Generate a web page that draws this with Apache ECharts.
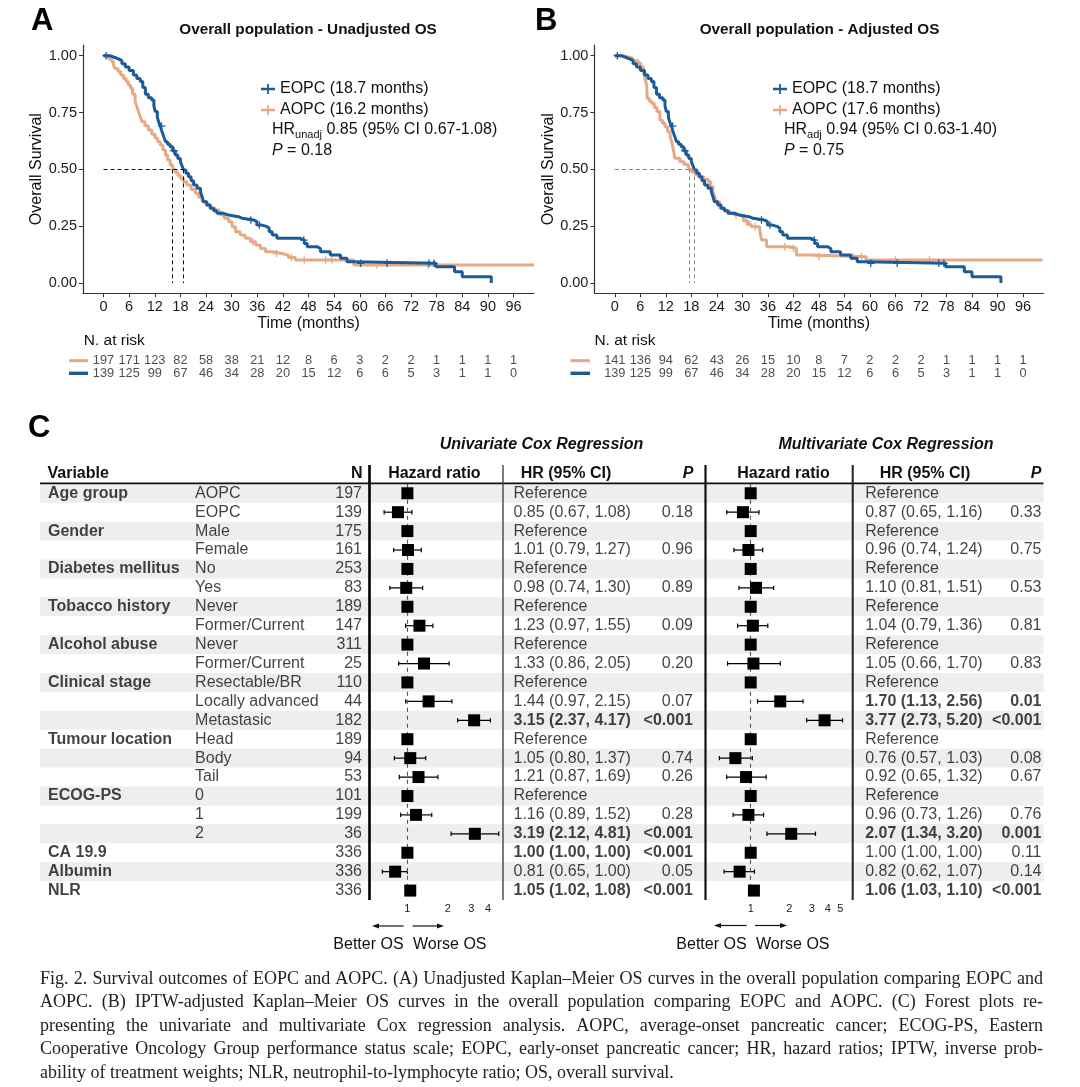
<!DOCTYPE html>
<html><head><meta charset="utf-8">
<script src="https://cdn.jsdelivr.net/npm/echarts/dist/echarts.min.js"></script>
<style>html,body{margin:0;padding:0;background:#fff}#c{width:1080px;height:1087px}</style>
</head><body><div id="c"></div><script>
// ---------------- DATA ----------------
const timeTicks = [0,6,12,18,24,30,36,42,48,54,60,66,72,78,84,90,96];
const survTicks = [0,0.25,0.5,0.75,1];

// Kaplan-Meier step points [time (months), survival]
const eopcOS = [[0,1],[1.5,0.993],[2.5,0.986],[3.5,0.978],[4.3,0.964],[5.1,0.950],[6.0,0.935],[7.0,0.915],[7.8,0.900],[8.6,0.886],[9.2,0.860],[9.8,0.830],[10.5,0.815],[11.3,0.805],[11.8,0.780],[12.1,0.755],[12.6,0.730],[12.9,0.710],[13.3,0.690],[13.7,0.666],[14.1,0.645],[14.5,0.622],[15.0,0.610],[15.6,0.600],[16.2,0.582],[16.8,0.563],[17.4,0.548],[18.0,0.534],[18.4,0.515],[18.75,0.497],[19.3,0.483],[19.9,0.468],[20.5,0.450],[21.1,0.431],[21.9,0.417],[22.7,0.402],[23.1,0.380],[23.4,0.358],[24.2,0.343],[25.0,0.329],[25.8,0.318],[26.6,0.307],[28.0,0.299],[29.3,0.292],[31.6,0.285],[32.5,0.277],[35.2,0.270],[35.9,0.255],[37.1,0.248],[38.3,0.241],[38.8,0.226],[39.5,0.211],[40.6,0.197],[46.1,0.189],[47.0,0.174],[47.7,0.160],[50.0,0.152],[50.8,0.138],[53.1,0.123],[55.5,0.109],[57.0,0.094],[58.6,0.087],[77.8,0.072],[82.2,0.050],[84.0,0.028],[90.8,0.0]];
const aopcOSUnadj = [[0,1],[0.8,0.995],[1.2,0.988],[1.8,0.975],[2.3,0.960],[2.7,0.944],[3.4,0.930],[4.0,0.915],[4.7,0.900],[5.3,0.886],[5.8,0.871],[6.3,0.857],[6.8,0.830],[7.4,0.798],[7.8,0.776],[8.2,0.754],[8.6,0.732],[9.0,0.710],[9.7,0.692],[10.5,0.673],[11.3,0.655],[12.1,0.637],[12.7,0.622],[13.3,0.607],[13.9,0.585],[14.5,0.563],[15.0,0.541],[15.6,0.519],[16.2,0.500],[16.8,0.487],[17.4,0.474],[18.0,0.461],[18.7,0.446],[19.5,0.431],[20.5,0.413],[21.5,0.395],[22.3,0.377],[23.1,0.358],[24.0,0.343],[25.0,0.329],[26.2,0.314],[27.4,0.299],[28.3,0.285],[29.3,0.270],[30.1,0.248],[30.9,0.226],[32.0,0.211],[33.2,0.197],[34.4,0.182],[35.6,0.167],[36.7,0.152],[37.9,0.138],[39.8,0.130],[41.8,0.123],[43.3,0.112],[44.9,0.101],[58.6,0.079],[100.8,0.079]];
const aopcOSAdj = [[0,1],[2.0,0.994],[3.2,0.988],[4.3,0.978],[5.5,0.967],[6.1,0.950],[6.7,0.930],[7.1,0.900],[7.5,0.871],[7.6,0.813],[8.1,0.800],[8.7,0.790],[9.3,0.772],[9.9,0.754],[10.6,0.717],[11.2,0.703],[11.8,0.688],[12.4,0.666],[13.0,0.644],[13.4,0.620],[13.7,0.593],[14.1,0.549],[15.3,0.534],[16.3,0.522],[17.3,0.512],[17.6,0.500],[18.1,0.490],[18.9,0.478],[19.6,0.468],[20.8,0.456],[22.0,0.446],[22.5,0.425],[23.1,0.402],[23.5,0.380],[23.9,0.358],[24.7,0.329],[25.8,0.318],[27.0,0.307],[28.2,0.299],[29.4,0.292],[30.2,0.277],[30.6,0.270],[31.4,0.258],[32.1,0.248],[34.1,0.233],[34.5,0.189],[35.7,0.160],[41.1,0.153],[42.7,0.123],[45.8,0.116],[59.1,0.101],[100.6,0.101]];
const eopcCensor = [[0.6,1],[13.6,0.690],[16.5,0.582],[34.5,0.277],[36.5,0.255],[46.9,0.189],[60.2,0.087],[66.4,0.087],[76.2,0.087],[77.4,0.087]];
const aopcCensorUnadj = [[27,0.314],[35,0.182],[40.5,0.130],[44,0.112],[47,0.101],[52,0.101],[53.5,0.101],[64,0.079],[76,0.079]];
const aopcCensorAdj = [[21,0.456],[28.5,0.299],[31,0.270],[33,0.248],[40,0.160],[42,0.153],[48,0.116],[56,0.116],[58,0.116],[66,0.101],[74,0.101]];

const riskEOPC      = [139,125,99,67,46,34,28,20,15,12,6,6,5,3,1,1,0];
const riskAOPCUnadj = [197,171,123,82,58,38,21,12,8,6,3,2,2,1,1,1,1];
const riskAOPCAdj   = [141,136,94,62,43,26,15,10,8,7,2,2,2,1,1,1,1];
const mediansUnadj = [18.7,16.2];
const mediansAdj   = [18.7,17.6];

// Forest table
const varGroups = ['Age group','','Gender','','Diabetes mellitus','','Tobacco history','','Alcohol abuse','','Clinical stage','','','Tumour location','','','ECOG-PS','','','CA 19.9','Albumin','NLR'];
const varLevels = ['AOPC','EOPC','Male','Female','No','Yes','Never','Former/Current','Never','Former/Current','Resectable/BR','Locally advanced','Metastasic','Head','Body','Tail','0','1','2','','',''];
const nPatients = [197,139,175,161,253,83,189,147,311,25,110,44,182,189,94,53,101,199,36,336,336,336];
const uniHR = [1,0.85,1,1.01,1,0.98,1,1.23,1,1.33,1,1.44,3.15,1,1.05,1.21,1,1.16,3.19,1.00,0.81,1.05];
const uniLo = [null,0.67,null,0.79,null,0.74,null,0.97,null,0.86,null,0.97,2.37,null,0.80,0.87,null,0.89,2.12,1.00,0.65,1.02];
const uniHi = [null,1.08,null,1.27,null,1.30,null,1.55,null,2.05,null,2.15,4.17,null,1.37,1.69,null,1.52,4.81,1.00,1.00,1.08];
const uniP  = ['','0.18','','0.96','','0.89','','0.09','','0.20','','0.07','<0.001','','0.74','0.26','','0.28','<0.001','<0.001','0.05','<0.001'];
const uniBoldRows = [12,18,19,21];
const multiHR = [1,0.87,1,0.96,1,1.10,1,1.04,1,1.05,1,1.70,3.77,1,0.76,0.92,1,0.96,2.07,1.00,0.82,1.06];
const multiLo = [null,0.65,null,0.74,null,0.81,null,0.79,null,0.66,null,1.13,2.73,null,0.57,0.65,null,0.73,1.34,1.00,0.62,1.03];
const multiHi = [null,1.16,null,1.24,null,1.51,null,1.36,null,1.70,null,2.56,5.20,null,1.03,1.32,null,1.26,3.20,1.00,1.07,1.10];
const multiP  = ['','0.33','','0.75','','0.53','','0.81','','0.83','','0.01','<0.001','','0.08','0.67','','0.76','0.001','0.11','0.14','<0.001'];
const multiBoldRows = [11,12,18,21];
const uniTicks = [1,2,3,4];
const multiTicks = [1,2,3,4,5];

const captionLines = [
 'Fig. 2. Survival outcomes of EOPC and AOPC. (A) Unadjusted Kaplan\u2013Meier OS curves in the overall population comparing EOPC and',
 'AOPC. (B) IPTW-adjusted Kaplan\u2013Meier OS curves in the overall population comparing EOPC and AOPC. (C) Forest plots re-',
 'presenting the univariate and multivariate Cox regression analysis. AOPC, average-onset pancreatic cancer; ECOG-PS, Eastern',
 'Cooperative Oncology Group performance status scale; EOPC, early-onset pancreatic cancer; HR, hazard ratios; IPTW, inverse prob-',
 'ability of treatment weights; NLR, neutrophil-to-lymphocyte ratio; OS, overall survival.'
];

// ---------------- STYLE / LAYOUT ----------------
const F = '"Liberation Sans", Arial, Helvetica, sans-serif';
const BLUE = '#1b5b97', ORANGE = '#e6a986';
const PLUS = 'path://M-0.6,-3.5H0.6V-0.6H3.5V0.6H0.6V3.5H-0.6V0.6H-3.5V-0.6H-0.6Z';
const LEGICON = 'path://M0,3.8H14V6.2H0Z M6.1,0H7.9V10H6.1Z';
const ROWS = nPatients.length;
const TBL_TOP = 483.8, ROW_H = 18.92;

const chart = echarts.init(document.getElementById('c'), null, {renderer:'canvas'});

function kmAxes(gi){
  const x = {type:'value', gridIndex:gi, min:-4.8, max:100.8,
    axisLine:{show:true, onZero:false, lineStyle:{color:'#333', width:1.2}},
    axisTick:{show:true, customValues:timeTicks, length:4, lineStyle:{color:'#333'}},
    axisLabel:{customValues:timeTicks, fontSize:14.5, color:'#1a1a1a', margin:6, fontFamily:F},
    splitLine:{show:false}, name:'Time (months)', nameLocation:'middle', nameGap:19,
    nameTextStyle:{fontSize:16, color:'#111', fontFamily:F}};
  const y = {type:'value', gridIndex:gi, min:-0.045, max:1.047,
    axisLine:{show:true, onZero:false, lineStyle:{color:'#333', width:1.2}},
    axisTick:{show:true, customValues:survTicks, length:4, lineStyle:{color:'#333'}},
    axisLabel:{customValues:survTicks, formatter:v=>Number(v).toFixed(2), fontSize:14.5, color:'#1a1a1a', margin:6, fontFamily:F},
    splitLine:{show:false}, name:'Overall Survival', nameLocation:'middle', nameGap:34,
    nameTextStyle:{fontSize:16, color:'#111', fontFamily:F}};
  return [x,y];
}
function hiddenX(gi,min,max,type){ return {type:type||'value', gridIndex:gi, min, max, show:false}; }

const xAxes = [], yAxes = [];
let a = kmAxes(0); xAxes.push(a[0]); yAxes.push(a[1]);
a = kmAxes(1); xAxes.push(a[0]); yAxes.push(a[1]);
xAxes.push(hiddenX(2,-4.8,100.8)); yAxes.push({type:'category', gridIndex:2, data:['AOPC','EOPC'], inverse:true, show:false});
xAxes.push(hiddenX(3,-4.8,100.8)); yAxes.push({type:'category', gridIndex:3, data:['AOPC','EOPC'], inverse:true, show:false});
xAxes.push(hiddenX(4,0,1080)); yAxes.push({type:'value', gridIndex:4, min:-0.5, max:ROWS-0.5, inverse:true, show:false});
function forestX(gi,min,max,ticks){
  return {type:'log', logBase:2, gridIndex:gi, min, max, axisLine:{show:false}, splitLine:{show:false},
    axisTick:{show:true, customValues:ticks, length:3, lineStyle:{color:'#333', width:1}},
    axisLabel:{show:true, customValues:ticks, fontSize:11, color:'#222', margin:3, fontFamily:F},
    minorTick:{show:false}};
}
xAxes.push(forestX(5,0.5166,5.177,uniTicks)); yAxes.push({type:'value', gridIndex:5, min:-0.5, max:ROWS-0.5, inverse:true, show:false});
xAxes.push(forestX(6,0.4426,6.244,multiTicks)); yAxes.push({type:'value', gridIndex:6, min:-0.5, max:ROWS-0.5, inverse:true, show:false});

const grids = [
  {left:83, top:45, width:451, height:248.3},
  {left:594.4, top:45, width:449, height:248.3},
  {left:83, top:354.4, width:451, height:25.2},
  {left:594.4, top:354.4, width:449, height:25.2},
  {left:0, top:TBL_TOP, width:1080, height:ROWS*ROW_H},
  {left:369, top:TBL_TOP, width:134, height:ROWS*ROW_H},
  {left:705.3, top:TBL_TOP, width:147.4, height:ROWS*ROW_H}
];

const series = [];
function kmLine(name, data, color, gi, z, extra){
  return Object.assign({type:'line', name, xAxisIndex:gi, yAxisIndex:gi, data, step:'end', showSymbol:false, symbol:'none',
    lineStyle:{color, width:3}, itemStyle:{color}, z, silent:true}, extra||{});
}
function medianMark(meds, color){
  const mx = Math.max.apply(null, meds);
  const d = [[{coord:[0,0.5]},{coord:[mx,0.5]}]];
  meds.forEach(m=>d.push([{coord:[m,0.5]},{coord:[m,0]}]));
  return {silent:true, symbol:['none','none'], label:{show:false}, lineStyle:{type:[4,3], color, width:1}, data:d, animation:false};
}
function censor(data,color,gi,z){
  return {type:'scatter', xAxisIndex:gi, yAxisIndex:gi, data, symbol:PLUS, symbolSize:7.5, itemStyle:{color, opacity:1}, z, silent:true};
}
// Panel A
series.push(kmLine('AOPC (16.2 months)', aopcOSUnadj, ORANGE, 0, 2, {markLine:medianMark(mediansUnadj,'#111')}));
series.push(censor(aopcCensorUnadj, ORANGE, 0, 2));
series.push(kmLine('EOPC (18.7 months)', eopcOS, BLUE, 0, 3));
series.push(censor(eopcCensor, BLUE, 0, 3));
// Panel B
series.push(kmLine('AOPC (17.6 months)', aopcOSAdj, ORANGE, 1, 2, {markLine:medianMark(mediansAdj,'#888')}));
series.push(censor(aopcCensorAdj, ORANGE, 1, 2));
series.push(kmLine('EOPC (18.7 months)', eopcOS, BLUE, 1, 3));
series.push(censor(eopcCensor, BLUE, 1, 3));
// Risk tables
function riskSeries(vals, cat, gi){
  return {type:'scatter', xAxisIndex:gi, yAxisIndex:gi, symbolSize:1, itemStyle:{color:'rgba(0,0,0,0)'}, silent:true,
    data: vals.map((n,i)=>({value:[timeTicks[i], cat], name:String(n)})),
    label:{show:true, position:'inside', formatter:'{b}', fontSize:12.8, fontFamily:F, color:'#222'}};
}
series.push(riskSeries(riskAOPCUnadj,'AOPC',2), riskSeries(riskEOPC,'EOPC',2));
series.push(riskSeries(riskAOPCAdj,'AOPC',3), riskSeries(riskEOPC,'EOPC',3));

// Table stripes
const stripes = [];
for (let r=0; r<ROWS; r+=2) stripes.push([{xAxis:40, yAxis:r-0.5},{xAxis:1043.5, yAxis:r+0.5}]);
series.push({type:'scatter', xAxisIndex:4, yAxisIndex:4, data:[[0,0]], symbolSize:0, silent:true, z:0,
  markArea:{silent:true, itemStyle:{color:'#eeeeee', opacity:1}, data:stripes}});

// Table text columns
function fmtHR(hr,lo,hi){ return lo==null ? 'Reference' : hr.toFixed(2)+' ('+lo.toFixed(2)+', '+hi.toFixed(2)+')'; }
function textCol(texts, x, align, boldFn){
  const data = [];
  texts.forEach((t,i)=>{ if (t!=='' && t!=null) data.push({value:[x,i], name:String(t), label:{fontWeight: boldFn(i)?'bold':'normal'}}); });
  return {type:'scatter', xAxisIndex:4, yAxisIndex:4, symbolSize:1, itemStyle:{color:'rgba(0,0,0,0)'}, silent:true, z:3, data,
    label:{show:true, position: align==='left'?'right':'left', distance:0, formatter:'{b}', fontSize:16, fontFamily:F, color:'#111'}};
}
series.push(textCol(varGroups, 47.5, 'left', ()=>true));
series.push(textCol(varLevels, 194.6, 'left', ()=>false));
series.push(textCol(nPatients, 362.5, 'right', ()=>false));
series.push(textCol(uniHR.map((h,i)=>fmtHR(h,uniLo[i],uniHi[i])), 513, 'left', i=>uniBoldRows.includes(i)));
series.push(textCol(uniP, 693.5, 'right', i=>uniBoldRows.includes(i)));
series.push(textCol(multiHR.map((h,i)=>fmtHR(h,multiLo[i],multiHi[i])), 864.7, 'left', i=>multiBoldRows.includes(i)));
series.push(textCol(multiP, 1042, 'right', i=>multiBoldRows.includes(i)));

// Forest plots
function errRender(params, api){
  const lo = api.coord([api.value(0), api.value(2)]);
  const hi = api.coord([api.value(1), api.value(2)]);
  const st = {stroke:'#000', lineWidth:1.2};
  return {type:'group', children:[
    {type:'line', shape:{x1:lo[0],y1:lo[1],x2:hi[0],y2:hi[1]}, style:st},
    {type:'line', shape:{x1:lo[0],y1:lo[1]-2.2,x2:lo[0],y2:lo[1]+2.2}, style:st},
    {type:'line', shape:{x1:hi[0],y1:hi[1]-2.2,x2:hi[0],y2:hi[1]+2.2}, style:st}
  ]};
}
function forest(gi, hr, lo, hi){
  series.push({type:'scatter', xAxisIndex:gi, yAxisIndex:gi, data:[[1,0]], symbolSize:0, silent:true, z:3,
    markLine:{silent:true, symbol:['none','none'], label:{show:false}, lineStyle:{type:[4,4], color:'#555', width:1.1}, data:[{xAxis:1}], animation:false}});
  series.push({type:'custom', xAxisIndex:gi, yAxisIndex:gi, renderItem:errRender, encode:{x:[0,1], y:2}, silent:true, z:4,
    data: lo.map((l,i)=> l==null ? null : [l, hi[i], i]).filter(d=>d)});
  series.push({type:'scatter', xAxisIndex:gi, yAxisIndex:gi, symbol:'rect', symbolSize:12, itemStyle:{color:'#000', opacity:1}, silent:true, z:5,
    data: hr.map((v,i)=>[v,i])});
}
forest(5, uniHR, uniLo, uniHi);
forest(6, multiHR, multiLo, multiHi);

// ---------------- GRAPHICS (annotations) ----------------
function T(x,y,text,o){
  o = o||{};
  const st = {text, fontFamily:F, fontSize:o.fontSize||16, fontWeight:o.fontWeight||'normal', fontStyle:o.fontStyle||'normal',
    fill:o.fill||'#111', align:o.align||'left', textAlign:o.align||'left', verticalAlign:'middle', textVerticalAlign:'middle'};
  if (o.rich) st.rich = o.rich;
  return {type:'text', x, y, silent:true, z:30, style:st};
}
function L(x1,y1,x2,y2,w,c){ return {type:'line', silent:true, z:30, shape:{x1,y1,x2,y2}, style:{stroke:c, lineWidth:w}}; }
function P(pts,c){ return {type:'polygon', silent:true, z:30, shape:{points:pts}, style:{fill:c}}; }
const g = [];
g.push(T(31,21,'A',{fontSize:31,fontWeight:'bold',fill:'#000'}));
g.push(T(535,21,'B',{fontSize:31,fontWeight:'bold',fill:'#000'}));
g.push(T(28,428,'C',{fontSize:31,fontWeight:'bold',fill:'#000'}));
g.push(T(308,30,'Overall population - Unadjusted OS',{fontSize:15.3,fontWeight:'bold',align:'center'}));
g.push(T(819.5,30,'Overall population - Adjusted OS',{fontSize:15.3,fontWeight:'bold',align:'center'}));
const rich = {n:{fontSize:16,fontFamily:F,fill:'#111',lineHeight:20}, s:{fontSize:11,fontFamily:F,fill:'#111',lineHeight:11,verticalAlign:'bottom'}, i:{fontSize:16,fontFamily:F,fill:'#111',fontStyle:'italic',lineHeight:20}};
g.push(T(272,130,'{n|HR}{s|unadj}{n| 0.85 (95% CI 0.67-1.08)}',{rich}));
g.push(T(272,150.5,'{i|P}{n| = 0.18}',{rich}));
g.push(T(784,130,'{n|HR}{s|adj}{n| 0.94 (95% CI 0.63-1.40)}',{rich}));
g.push(T(784,150.5,'{i|P}{n| = 0.75}',{rich}));
g.push(T(83.7,340.7,'N. at risk',{fontSize:15.5}));
g.push(T(594.4,340.7,'N. at risk',{fontSize:15.5}));
g.push(L(69,360.7,88,360.7,3,ORANGE), L(69,373.3,88,373.3,3.4,BLUE));
g.push(L(570.5,360.7,590,360.7,3,ORANGE), L(570.5,373.3,590,373.3,3.4,BLUE));
// forest headers
g.push(T(541.5,445,'Univariate Cox Regression',{fontWeight:'bold',fontStyle:'italic',align:'center'}));
g.push(T(886,445,'Multivariate Cox Regression',{fontWeight:'bold',fontStyle:'italic',align:'center'}));
const HY = 473.3;
g.push(T(47.5,HY,'Variable',{fontWeight:'bold'}));
g.push(T(362.5,HY,'N',{fontWeight:'bold',align:'right'}));
g.push(T(434.4,HY,'Hazard ratio',{fontWeight:'bold',align:'center'}));
g.push(T(566,HY,'HR (95% CI)',{fontWeight:'bold',align:'center'}));
g.push(T(693.5,HY,'P',{fontWeight:'bold',fontStyle:'italic',align:'right'}));
g.push(T(783.5,HY,'Hazard ratio',{fontWeight:'bold',align:'center'}));
g.push(T(925,HY,'HR (95% CI)',{fontWeight:'bold',align:'center'}));
g.push(T(1041.5,HY,'P',{fontWeight:'bold',fontStyle:'italic',align:'right'}));
const TB = TBL_TOP + ROWS*ROW_H;
g.push(L(40,483.3,1043.5,483.3,1.8,'#111'));
g.push(L(369.5,465,369.5,TB,2.6,'#000'));
g.push(L(503,465,503,TB,1.4,'#444'));
g.push(L(705.5,465,705.5,TB,2.2,'#111'));
g.push(L(852.7,465,852.7,TB,2,'#222'));
// arrows
function arrows(xL0,xL1,xR0,xR1,y){
  g.push(L(xL0,y,xL1+5,y,1.2,'#111'), P([[xL1,y],[xL1+7,y-2.6],[xL1+7,y+2.6]],'#111'));
  g.push(L(xR0,y,xR1-5,y,1.2,'#111'), P([[xR1,y],[xR1-7,y-2.6],[xR1-7,y+2.6]],'#111'));
}
arrows(403.6,372,412.5,444,926);
arrows(746.6,714,755,787,925.5);
g.push(T(403.6,945,'Better OS',{align:'right'}), T(413,945,'Worse OS'));
g.push(T(746.6,945,'Better OS',{align:'right'}), T(756,945,'Worse OS'));

// caption (justified, word by word)
const mctx = document.createElement('canvas').getContext('2d');
function mw(t,size){ mctx.font = size+'px "Liberation Serif"'; return mctx.measureText(t).width; }
let capSize = 17 * 659 / mw(captionLines[4],17);
capSize = Math.max(14.5, Math.min(18, capSize));
const CAP_L = 40, CAP_R = 1043, CAP_Y0 = 979, CAP_DY = 23.5;
captionLines.forEach((line, li)=>{
  const y = CAP_Y0 + li*CAP_DY;
  const words = line.split(' ');
  const widths = words.map(w=>mw(w,capSize));
  const total = widths.reduce((s,v)=>s+v,0);
  const last = li === captionLines.length-1;
  const gap = last ? mw(' ',capSize) : (CAP_R-CAP_L-total)/(words.length-1);
  let x = CAP_L;
  words.forEach((w,i)=>{
    g.push({type:'text', x, y, silent:true, z:30, style:{text:w, fontFamily:'"Liberation Serif", "Times New Roman", serif', fontSize:capSize, fill:'#222', align:'left', textAlign:'left', verticalAlign:'middle', textVerticalAlign:'middle'}});
    x += widths[i] + gap;
  });
});

chart.setOption({
  animation:false,
  backgroundColor:'#fff',
  grid: grids,
  xAxis: xAxes,
  yAxis: yAxes,
  legend: [
    {data:['EOPC (18.7 months)','AOPC (16.2 months)'], left:256, top:76, orient:'vertical', icon:LEGICON, itemWidth:14, itemHeight:10, itemGap:5, itemTextGap:2,
      textStyle:{fontSize:16, fontFamily:F, color:'#111', lineHeight:16}, selectedMode:false},
    {data:['EOPC (18.7 months)','AOPC (17.6 months)'], left:768, top:76, orient:'vertical', icon:LEGICON, itemWidth:14, itemHeight:10, itemGap:5, itemTextGap:2,
      textStyle:{fontSize:16, fontFamily:F, color:'#111', lineHeight:16}, selectedMode:false}
  ],
  series,
  graphic: {elements: g}
});
</script></body></html>
